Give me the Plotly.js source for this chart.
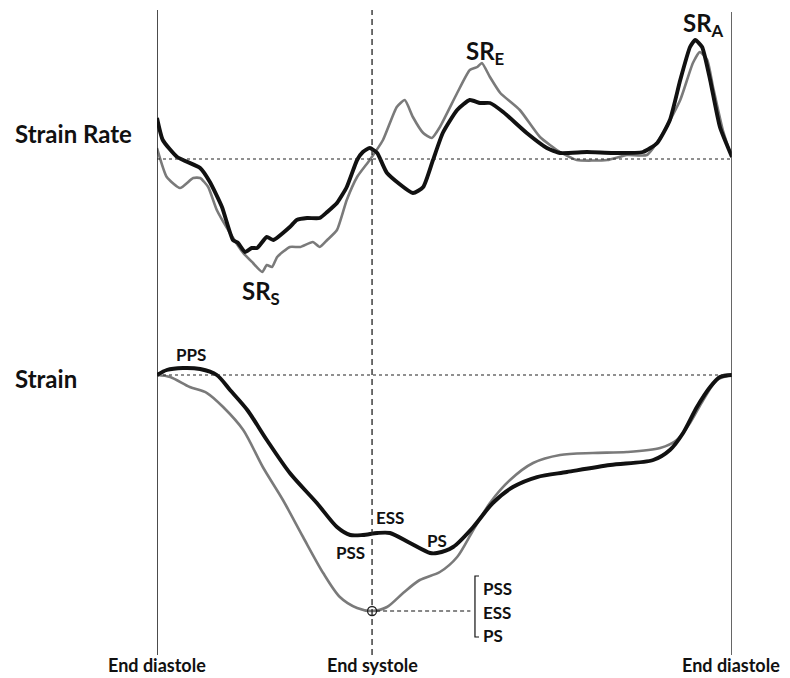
<!DOCTYPE html>
<html>
<head>
<meta charset="utf-8">
<script src="https://cdn.plot.ly/plotly-3.0.1.min.js"></script>
<style>html,body{margin:0;padding:0;background:#fff;}#chart{width:790px;height:678px;}</style>
</head>
<body>
<div id="chart"></div>
<script>
// Time across one cardiac cycle (ms), end diastole -> end diastole
const CYCLE = [0, 1000];
const END_SYSTOLE = 374;

// Strain rate (1/s) - thick black curve
const srBlackT = [0,10,35,75,92,113,132,141,153,165,174,191,202,231,243,261,283,296,313,330,348,358,370,383,400,445,463,480,497,522,544,562,579,602,643,678,701,748,793,845,870,892,910,927,936,948,962,979,1000];
const srBlackV = [0.41,0.19,0.02,-0.09,-0.23,-0.48,-0.81,-0.84,-0.93,-0.89,-0.89,-0.78,-0.81,-0.68,-0.61,-0.59,-0.59,-0.53,-0.44,-0.28,-0.01,0.07,0.11,0.06,-0.14,-0.34,-0.28,-0.01,0.26,0.49,0.59,0.56,0.56,0.47,0.26,0.11,0.06,0.07,0.06,0.07,0.16,0.39,0.79,1.12,1.19,1.12,0.79,0.32,0.02];

// Strain rate (1/s) - grey curve
const srGreyT = [0,17,40,63,75,89,104,127,150,167,183,191,200,209,231,249,271,283,296,313,330,348,370,393,417,431,445,463,478,492,522,544,557,565,579,597,631,666,701,730,783,817,852,880,910,932,944,957,967,984,997];
const srGreyV = [0.11,-0.18,-0.29,-0.19,-0.19,-0.28,-0.51,-0.74,-0.94,-1.04,-1.13,-1.06,-1.08,-0.98,-0.88,-0.88,-0.83,-0.88,-0.81,-0.71,-0.41,-0.18,-0.01,0.19,0.52,0.59,0.42,0.26,0.21,0.32,0.66,0.89,0.92,0.96,0.82,0.66,0.49,0.22,0.07,-0.01,-0.01,0.04,0.04,0.26,0.59,0.96,1.07,0.99,0.72,0.29,0.06];

// Strain (%) - thick black curve
const stBlackT = [0,17,45,75,104,127,157,191,231,278,313,336,358,383,405,440,475,487,515,550,584,619,661,713,788,863,892,915,939,962,979,1000];
const stBlackV = [0,0.5,0.7,0.6,0.0,-1.5,-3.5,-6.5,-9.8,-12.8,-15.2,-16.0,-16.0,-15.8,-15.8,-16.8,-17.8,-17.8,-17.2,-15.2,-12.8,-11.2,-10.2,-9.7,-9.0,-8.5,-7.5,-5.8,-3.2,-1.2,-0.2,0];

// Strain (%) - grey curve
const stGreyT = [0,23,57,87,115,150,184,219,254,289,318,348,374,400,428,457,492,522,550,579,614,654,701,758,817,875,904,927,950,974,1000];
const stGreyV = [0,-0.2,-1.2,-1.8,-3.2,-5.5,-9.2,-12.5,-16.2,-19.8,-22.2,-23.3,-23.6,-23.2,-21.8,-20.5,-19.7,-18.2,-15.5,-12.8,-10.5,-8.8,-8.0,-7.8,-7.7,-7.3,-6.5,-4.8,-2.5,-0.5,0];

// Marked point: peak strain of grey curve at end systole
const markT = [374];
const markV = [-23.6];

// Labels
const panelLabels = ['Strain Rate', 'Strain'];
const srLabels = ['SR<sub>S</sub>', 'SR<sub>E</sub>', 'SR<sub>A</sub>'];
const timeLabels = ['End diastole', 'End systole', 'End diastole'];
const bracketLabels = ['PSS', 'ESS', 'PS'];

const FONT = 'Lato, "Open Sans", sans-serif';
const BLACK = '#111111';
const GREY = '#7a7a7a';

const traces = [
  {x: srGreyT, y: srGreyV, xaxis: 'x', yaxis: 'y', mode: 'lines', line: {color: GREY, width: 2.6, shape: 'spline', smoothing: 0.5}, hoverinfo: 'skip'},
  {x: srBlackT, y: srBlackV, xaxis: 'x', yaxis: 'y', mode: 'lines', line: {color: BLACK, width: 3.9, shape: 'spline', smoothing: 0.5}, hoverinfo: 'skip'},
  {x: stGreyT, y: stGreyV, xaxis: 'x', yaxis: 'y2', mode: 'lines', line: {color: GREY, width: 2.6, shape: 'spline', smoothing: 0.8}, hoverinfo: 'skip'},
  {x: stBlackT, y: stBlackV, xaxis: 'x', yaxis: 'y2', mode: 'lines', line: {color: BLACK, width: 3.9, shape: 'spline', smoothing: 0.8}, hoverinfo: 'skip'},
  {x: markT, y: markV, xaxis: 'x', yaxis: 'y2', mode: 'markers', marker: {symbol: 'circle-open', size: 9, color: '#222', line: {width: 1.3, color: '#222'}}, hoverinfo: 'skip'}
];

const vTop = 1 - 10/678, vBot = 1 - 655/678;
const bx = 553; // bracket x position in time units
const shapes = [
  {type: 'line', xref: 'x', yref: 'paper', x0: CYCLE[0], x1: CYCLE[0], y0: vBot, y1: vTop, line: {color: '#111', width: 1.5}},
  {type: 'line', xref: 'x', yref: 'paper', x0: END_SYSTOLE, x1: END_SYSTOLE, y0: vBot, y1: vTop, line: {color: '#222', width: 1.3, dash: '6px,4px'}},
  {type: 'line', xref: 'x', yref: 'paper', x0: CYCLE[1], x1: CYCLE[1], y0: vBot, y1: 1 - 12/678, line: {color: '#333', width: 1.5}},
  {type: 'line', xref: 'x', yref: 'y', x0: CYCLE[0], x1: CYCLE[1], y0: 0, y1: 0, line: {color: '#222', width: 1.2, dash: 'dot'}},
  {type: 'line', xref: 'x', yref: 'y2', x0: CYCLE[0], x1: CYCLE[1], y0: 0, y1: 0, line: {color: '#222', width: 1.2, dash: 'dot'}},
  {type: 'line', xref: 'x', yref: 'y2', x0: 381, x1: bx - 8, y0: markV[0], y1: markV[0], line: {color: '#111', width: 1.2, dash: '4px,3px'}},
  {type: 'path', xref: 'x', yref: 'y2', path: 'M ' + (bx + 7) + ',-20.1 L ' + bx + ',-20.1 L ' + bx + ',-26.2 L ' + (bx + 7) + ',-26.2', line: {color: '#111', width: 1.2}}
];

function ann(text, x, y, yref, size, opts) {
  return Object.assign({text: text, x: x, y: y, xref: 'x', yref: yref, showarrow: false,
    font: {family: FONT, size: size, color: '#111', weight: 'bold'}, xanchor: 'center', yanchor: 'middle'}, opts || {});
}

const annotations = [
  ann(panelLabels[0], -0.2504, 0.26, 'y', 24, {xref: 'paper', xanchor: 'left'}),
  ann(panelLabels[1], -0.2504, -0.3, 'y2', 24, {xref: 'paper', xanchor: 'left'}),
  ann(srLabels[0], 180, -1.33, 'y', 24),
  ann(srLabels[1], 570, 1.07, 'y', 24),
  ann(srLabels[2], 950, 1.35, 'y', 24),
  ann('PPS', 59, 2.1, 'y2', 17),
  ann('ESS', 405, -14.2, 'y2', 17),
  ann('PSS', 337, -17.7, 'y2', 17),
  ann('PS', 487, -16.5, 'y2', 17),
  ann(bracketLabels[0], 563, -21.3, 'y2', 17, {xanchor: 'left'}),
  ann(bracketLabels[1], 563, -23.7, 'y2', 17, {xanchor: 'left'}),
  ann(bracketLabels[2], 563, -26.0, 'y2', 17, {xanchor: 'left'}),
  ann(timeLabels[0], CYCLE[0], 1 - 665/678, 'paper', 18),
  ann(timeLabels[1], END_SYSTOLE, 1 - 665/678, 'paper', 18),
  ann(timeLabels[2], 998, 1 - 665/678, 'paper', 18)
];

const layout = {
  width: 790, height: 678,
  margin: {l: 157, r: 58, t: 0, b: 0, pad: 0},
  paper_bgcolor: '#ffffff', plot_bgcolor: 'rgba(0,0,0,0)',
  showlegend: false,
  xaxis: {range: CYCLE, visible: false, fixedrange: true},
  yaxis: {domain: [0.51327, 1], range: [-1.71, 1.59], visible: false, fixedrange: true},
  yaxis2: {domain: [0, 0.51327], range: [-30.3, 4.5], visible: false, fixedrange: true},
  shapes: shapes,
  annotations: annotations
};

Plotly.newPlot('chart', traces, layout, {staticPlot: true, displayModeBar: false});
</script>
</body>
</html>
